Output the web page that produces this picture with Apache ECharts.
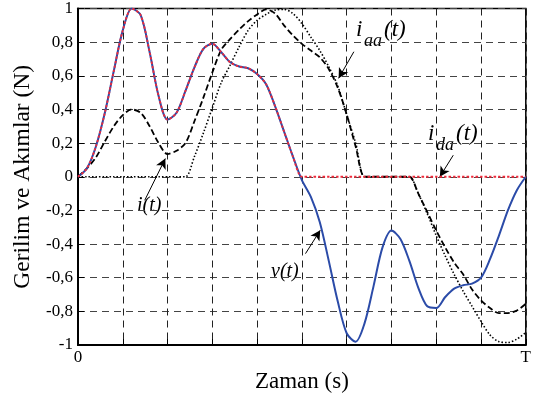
<!DOCTYPE html>
<html>
<head>
<meta charset="utf-8">
<script src="https://cdn.jsdelivr.net/npm/echarts@6/dist/echarts.min.js"></script>
<style>
  html, body { margin: 0; padding: 0; background: #fff; }
  #chart { width: 534px; height: 401px; }
</style>
</head>
<body>
<div id="chart"></div>
<script>
// zaman ekseni (T = 1)
var times = [0, 0.02, 0.04, 0.06, 0.08, 0.10, 0.12, 0.14, 0.16, 0.18,
             0.20, 0.22, 0.24, 0.26, 0.28, 0.30, 0.32, 0.34, 0.36, 0.38,
             0.40, 0.42, 0.44, 0.46, 0.48, 0.50, 0.52, 0.54, 0.56, 0.58,
             0.60, 0.62, 0.64, 0.66, 0.68, 0.70, 0.72, 0.74, 0.76, 0.78,
             0.80, 0.82, 0.84, 0.86, 0.88, 0.90, 0.92, 0.94, 0.96, 0.98, 1.00];

// v(t) gerilim
var vValues = [0, 0.05, 0.18, 0.38, 0.63, 0.87, 1.00, 0.96, 0.74, 0.48,
               0.34, 0.38, 0.51, 0.65, 0.76, 0.79, 0.74, 0.68, 0.655, 0.645,
               0.61, 0.55, 0.42, 0.27, 0.12, -0.02, -0.12, -0.27, -0.50, -0.74,
               -0.93, -0.98, -0.87, -0.65, -0.42, -0.32, -0.37, -0.50, -0.66, -0.77,
               -0.78, -0.715, -0.665, -0.645, -0.635, -0.60, -0.49, -0.35, -0.20, -0.08, 0];

// i_da(t) akim
var idaValues = [0, 0.05, 0.18, 0.38, 0.63, 0.87, 1.00, 0.96, 0.74, 0.48,
                 0.34, 0.38, 0.51, 0.65, 0.76, 0.79, 0.74, 0.68, 0.655, 0.645,
                 0.61, 0.55, 0.42, 0.27, 0.12, 0, 0, 0, 0, 0,
                 0, 0, 0, 0, 0, 0, 0, 0, 0, 0,
                 0, 0, 0, 0, 0, 0, 0, 0, 0, 0, 0];

// i(t) akim
var iValues = [0, 0.05, 0.115, 0.21, 0.30, 0.366, 0.40, 0.38, 0.30, 0.20,
               0.135, 0.155, 0.20, 0.33, 0.47, 0.62, 0.755, 0.82, 0.875, 0.925,
               0.965, 0.995, 0.97, 0.90, 0.84, 0.79, 0.75, 0.71, 0.64, 0.53,
               0.37, 0.18, 0, 0, 0, 0, 0, 0, -0.10, -0.21,
               -0.32, -0.42, -0.51, -0.58, -0.67, -0.735, -0.78, -0.81, -0.81, -0.795, -0.755];

// i_aa(t) akim
var iaaValues = [0, 0, 0, 0, 0, 0, 0, 0, 0, 0,
                 0, 0, 0, 0.12, 0.26, 0.41, 0.56, 0.665, 0.773, 0.87,
                 0.93, 0.965, 0.99, 0.995, 0.97, 0.91, 0.83, 0.75, 0.654, 0.54,
                 0.37, 0.20, 0, 0, 0, 0, 0, 0, -0.10, -0.22,
                 -0.35, -0.47, -0.58, -0.68, -0.77, -0.86, -0.94, -0.98, -0.985, -0.965, -0.925];

var FONT = '"Liberation Serif", "DejaVu Serif", serif';

function pairs(vals) {
  return times.map(function(t, k) { return [t, vals[k]]; });
}

var chart = echarts.init(document.getElementById('chart'), null, { renderer: 'canvas' });

var option = {
  animation: false,
  backgroundColor: '#fff',
  grid: {
    left: 78, right: 6, top: 8, bottom: 56,
    show: true, borderColor: '#000', borderWidth: 1.5
  },
  xAxis: {
    type: 'value', min: 0, max: 1, interval: 0.1,
    name: 'Zaman (s)', nameLocation: 'middle', nameGap: 22,
    nameTextStyle: { fontFamily: FONT, fontSize: 23, color: '#000' },
    axisLine: { onZero: false, lineStyle: { color: '#000', width: 2 } },
    axisTick: { inside: true, length: 6, lineStyle: { color: '#000' } },
    axisLabel: {
      fontFamily: FONT, fontSize: 17, color: '#000', margin: 4,
      formatter: function(v) { return v === 0 ? '0' : (v === 1 ? 'T' : ''); }
    },
    splitLine: { show: true, lineStyle: { color: '#222', type: [7, 5], width: 1 } }
  },
  yAxis: {
    type: 'value', min: -1, max: 1, interval: 0.2,
    name: 'Gerilim ve Akımlar (N)', nameLocation: 'middle', nameGap: 40,
    nameTextStyle: { fontFamily: FONT, fontSize: 23.5, color: '#000' },
    axisLine: { show: true, onZero: false, lineStyle: { color: '#000', width: 2 } },
    axisTick: { show: true, inside: true, length: 6, lineStyle: { color: '#000' } },
    axisLabel: {
      fontFamily: FONT, fontSize: 17, color: '#000', margin: 5,
      formatter: function(v) {
        var r = Math.round(v * 10) / 10;
        return String(r).replace('.', ',');
      }
    },
    splitLine: { show: true, lineStyle: { color: '#444', type: [7, 5], width: 1 } }
  },
  series: [
    {
      name: 'i_aa(t)', type: 'line', data: pairs(iaaValues),
      showSymbol: false, smooth: 0.3, z: 3,
      lineStyle: { color: '#000', width: 1.6, type: [1.5, 2] }
    },
    {
      name: 'i(t)', type: 'line', data: pairs(iValues),
      showSymbol: false, smooth: 0.3, z: 4,
      lineStyle: { color: '#000', width: 1.8, type: [6, 3] },
      markLine: {
        silent: true, symbol: ['none', 'arrow'], symbolSize: [8, 10],
        label: { show: false },
        lineStyle: { color: '#000', width: 1, type: 'solid' },
        data: [
          [{ coord: [0.149, -0.14] }, { coord: [0.195, 0.108] }],
          [{ coord: [0.508, -0.457] }, { coord: [0.541, -0.318] }],
          [{ coord: [0.616, 0.743] }, { coord: [0.582, 0.585] }],
          [{ coord: [0.838, 0.128] }, { coord: [0.808, 0.0] }]
        ]
      }
    },
    {
      name: 'v(t)', type: 'line', data: pairs(vValues),
      showSymbol: false, smooth: 0.3, z: 5,
      lineStyle: { color: '#2b4ba8', width: 2 }
    },
    {
      name: 'i_da(t)', type: 'line', data: pairs(idaValues),
      showSymbol: false, smooth: 0.3, z: 6,
      lineStyle: { color: '#ee2a3a', width: 1.8, type: [2.5, 2] }
    }
  ],
  graphic: [
    { type: 'text', left: 137, top: 196, style: { text: 'i(t)', font: 'italic 20px ' + FONT, fill: '#000' } },
    { type: 'text', left: 271, top: 262, style: { text: 'v(t)', font: 'italic 20px ' + FONT, fill: '#000' } },
    { type: 'text', left: 356, top: 18, style: { text: 'i', font: 'italic 23px ' + FONT, fill: '#000' } },
    { type: 'text', left: 364, top: 32, style: { text: 'aa', font: 'italic 18px ' + FONT, fill: '#000' } },
    { type: 'text', left: 384, top: 18, style: { text: '(t)', font: 'italic 23px ' + FONT, fill: '#000' } },
    { type: 'text', left: 428, top: 122, style: { text: 'i', font: 'italic 23px ' + FONT, fill: '#000' } },
    { type: 'text', left: 436, top: 136, style: { text: 'da', font: 'italic 18px ' + FONT, fill: '#000' } },
    { type: 'text', left: 456, top: 122, style: { text: '(t)', font: 'italic 23px ' + FONT, fill: '#000' } }
  ]
};

chart.setOption(option);
</script>
</body>
</html>
